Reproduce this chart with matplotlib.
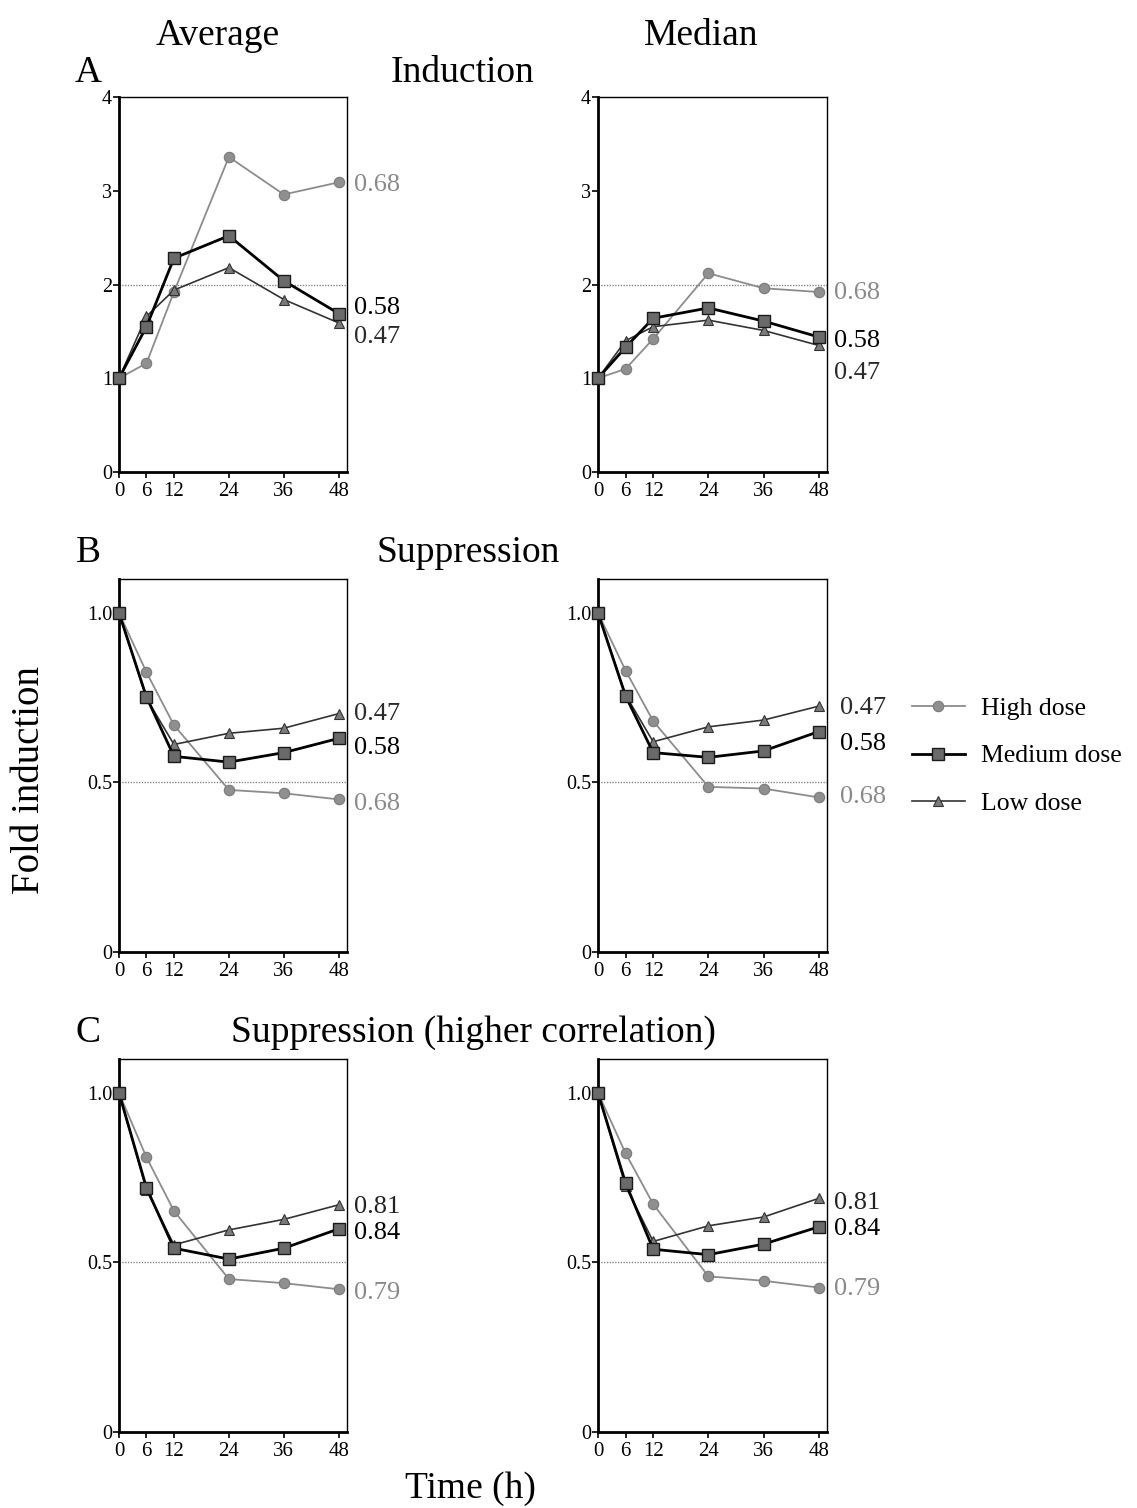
import numpy as np
import matplotlib.pyplot as plt
from matplotlib.lines import Line2D

# time points (h)
hours = [0, 6, 12, 24, 36, 48]

# A - induction, average / median
ind_avg_high = [1.0, 1.16, 1.92, 3.36, 2.96, 3.09]
ind_avg_med = [1.0, 1.55, 2.28, 2.52, 2.04, 1.69]
ind_avg_low = [1.0, 1.66, 1.94, 2.18, 1.84, 1.59]
ind_med_high = [1.0, 1.10, 1.42, 2.12, 1.96, 1.92]
ind_med_med = [1.0, 1.33, 1.64, 1.75, 1.61, 1.44]
ind_med_low = [1.0, 1.40, 1.55, 1.62, 1.51, 1.35]

# B - suppression
sup_avg_high = [1.0, 0.825, 0.669, 0.478, 0.468, 0.450]
sup_avg_med = [1.0, 0.752, 0.577, 0.560, 0.588, 0.630]
sup_avg_low = [1.0, 0.748, 0.612, 0.645, 0.660, 0.703]
sup_med_high = [1.0, 0.830, 0.681, 0.487, 0.482, 0.456]
sup_med_med = [1.0, 0.755, 0.588, 0.574, 0.593, 0.650]
sup_med_low = [1.0, 0.758, 0.620, 0.664, 0.684, 0.725]

# C - suppression (higher correlation)
hc_avg_high = [1.0, 0.810, 0.652, 0.451, 0.439, 0.421]
hc_avg_med = [1.0, 0.720, 0.542, 0.510, 0.542, 0.599]
hc_avg_low = [1.0, 0.714, 0.552, 0.596, 0.627, 0.670]
hc_med_high = [1.0, 0.822, 0.672, 0.459, 0.446, 0.426]
hc_med_med = [1.0, 0.734, 0.539, 0.523, 0.554, 0.605]
hc_med_low = [1.0, 0.725, 0.562, 0.608, 0.634, 0.689]

# correlation labels at the right end (text, y position)
lab_ind_avg = [("0.68", 3.06), ("0.58", 1.75), ("0.47", 1.44)]
lab_ind_med = [("0.68", 1.91), ("0.58", 1.40), ("0.47", 1.06)]
lab_sup_avg = [("0.47", 0.703), ("0.58", 0.603), ("0.68", 0.436)]
lab_sup_med = [("0.47", 0.720), ("0.58", 0.613), ("0.68", 0.456)]
lab_hc_avg = [("0.81", 0.663), ("0.84", 0.586), ("0.79", 0.410)]
lab_hc_med = [("0.81", 0.674), ("0.84", 0.600), ("0.79", 0.422)]

label_colors = {"0.68": "#8a8a8a", "0.58": "black", "0.47": "#2a2a2a",
                "0.81": "#222222", "0.84": "black", "0.79": "#8a8a8a"}

plt.rcParams['font.family'] = ['Liberation Serif', 'DejaVu Serif']

HIGH = dict(color="#8c8c8c", lw=1.3, marker="o", ms=7.5, mfc="#8f8f8f", mec="#7a7a7a", mew=0.8)
MED = dict(color="black", lw=2.0, marker="s", ms=8, mfc="#6a6a6a", mec="#1a1a1a", mew=1.0)
LOW = dict(color="#333333", lw=1.2, marker="^", ms=7.5, mfc="#7a7a7a", mec="#333333", mew=0.8)

W, H = 1137, 1508
fig = plt.figure(figsize=(W / 100, H / 100), dpi=100)


def px_axes(left, top, right, bottom):
    return fig.add_axes([left / W, 1 - bottom / H, (right - left) / W, (bottom - top) / H])


def draw_panel(ax, high, med, low, ref, ylim, yticks, ylabels, labels, lab_dx):
    ax.axhline(ref, color="#888888", lw=1.0, ls=(0, (1, 1)), zorder=1)
    ax.plot(hours, high, clip_on=False, zorder=3, **HIGH)
    ax.plot(hours, low, clip_on=False, zorder=3, **LOW)
    ax.plot(hours, med, clip_on=False, zorder=4, **MED)
    ax.set_xlim(0, 49.8)
    ax.set_ylim(*ylim)
    ax.set_xticks(hours)
    ax.set_xticklabels([str(h) for h in hours], fontsize=15)
    ax.set_yticks(yticks)
    ax.set_yticklabels(ylabels, fontsize=14.5)
    ax.tick_params(axis="x", direction="out", length=4, width=1.2, pad=3)
    ax.tick_params(axis="y", direction="out", length=4, width=1.2, pad=1)
    for s in ["left", "bottom"]:
        ax.spines[s].set_linewidth(2.0)
    for s in ["top", "right"]:
        ax.spines[s].set_linewidth(1.0)
    for txt, yv in labels:
        ax.text(49.8 + lab_dx, yv, txt, fontsize=19, va="center", ha="left",
                color=label_colors[txt])


xl = (119, 347)
xr = (598, 827)
rows = [(97, 472), (579, 952), (1059, 1432)]

ax = px_axes(xl[0], rows[0][0], xl[1], rows[0][1])
draw_panel(ax, ind_avg_high, ind_avg_med, ind_avg_low, 2, (0, 4), [0, 1, 2, 3, 4],
           ["0", "1", "2", "3", "4"], lab_ind_avg, 1.5)
ax = px_axes(xr[0], rows[0][0], xr[1], rows[0][1])
draw_panel(ax, ind_med_high, ind_med_med, ind_med_low, 2, (0, 4), [0, 1, 2, 3, 4],
           ["0", "1", "2", "3", "4"], lab_ind_med, 1.5)

ax = px_axes(xl[0], rows[1][0], xl[1], rows[1][1])
draw_panel(ax, sup_avg_high, sup_avg_med, sup_avg_low, 0.5, (0, 1.1), [0, 0.5, 1.0],
           ["0", "0.5", "1.0"], lab_sup_avg, 1.5)
ax = px_axes(xr[0], rows[1][0], xr[1], rows[1][1])
draw_panel(ax, sup_med_high, sup_med_med, sup_med_low, 0.5, (0, 1.1), [0, 0.5, 1.0],
           ["0", "0.5", "1.0"], lab_sup_med, 2.8)

ax = px_axes(xl[0], rows[2][0], xl[1], rows[2][1])
draw_panel(ax, hc_avg_high, hc_avg_med, hc_avg_low, 0.5, (0, 1.1), [0, 0.5, 1.0],
           ["0", "0.5", "1.0"], lab_hc_avg, 1.5)
ax = px_axes(xr[0], rows[2][0], xr[1], rows[2][1])
draw_panel(ax, hc_med_high, hc_med_med, hc_med_low, 0.5, (0, 1.1), [0, 0.5, 1.0],
           ["0", "0.5", "1.0"], lab_hc_med, 1.5)


def ftext(x, y, s, **kw):
    fig.text(x / W, 1 - y / H, s, **kw)


ftext(218, 36, "Average", fontsize=27, ha="center", va="center")
ftext(701, 36, "Median", fontsize=27, ha="center", va="center")
ftext(88, 73, "A", fontsize=27, ha="center", va="center")
ftext(463, 73, "Induction", fontsize=27, ha="center", va="center")
ftext(88, 553, "B", fontsize=27, ha="center", va="center")
ftext(468, 553, "Suppression", fontsize=27, ha="center", va="center")
ftext(88, 1033, "C", fontsize=27, ha="center", va="center")
ftext(473, 1033, "Suppression (higher correlation)", fontsize=27, ha="center", va="center")
ftext(30, 780, "Fold induction", fontsize=28, ha="center", va="center", rotation=90)
ftext(470, 1489, "Time (h)", fontsize=27, ha="center", va="center")

handles = [Line2D([], [], **HIGH), Line2D([], [], **MED), Line2D([], [], **LOW)]
fig.legend(handles, ["High dose", "Medium dose", "Low dose"],
           loc="center left", bbox_to_anchor=(912 / W, 1 - 756 / H),
           frameon=False, fontsize=18.5, handlelength=2.05, handletextpad=0.65,
           labelspacing=0.95, borderpad=0, borderaxespad=0)

fig.savefig("out.png", dpi=100, facecolor="white")
